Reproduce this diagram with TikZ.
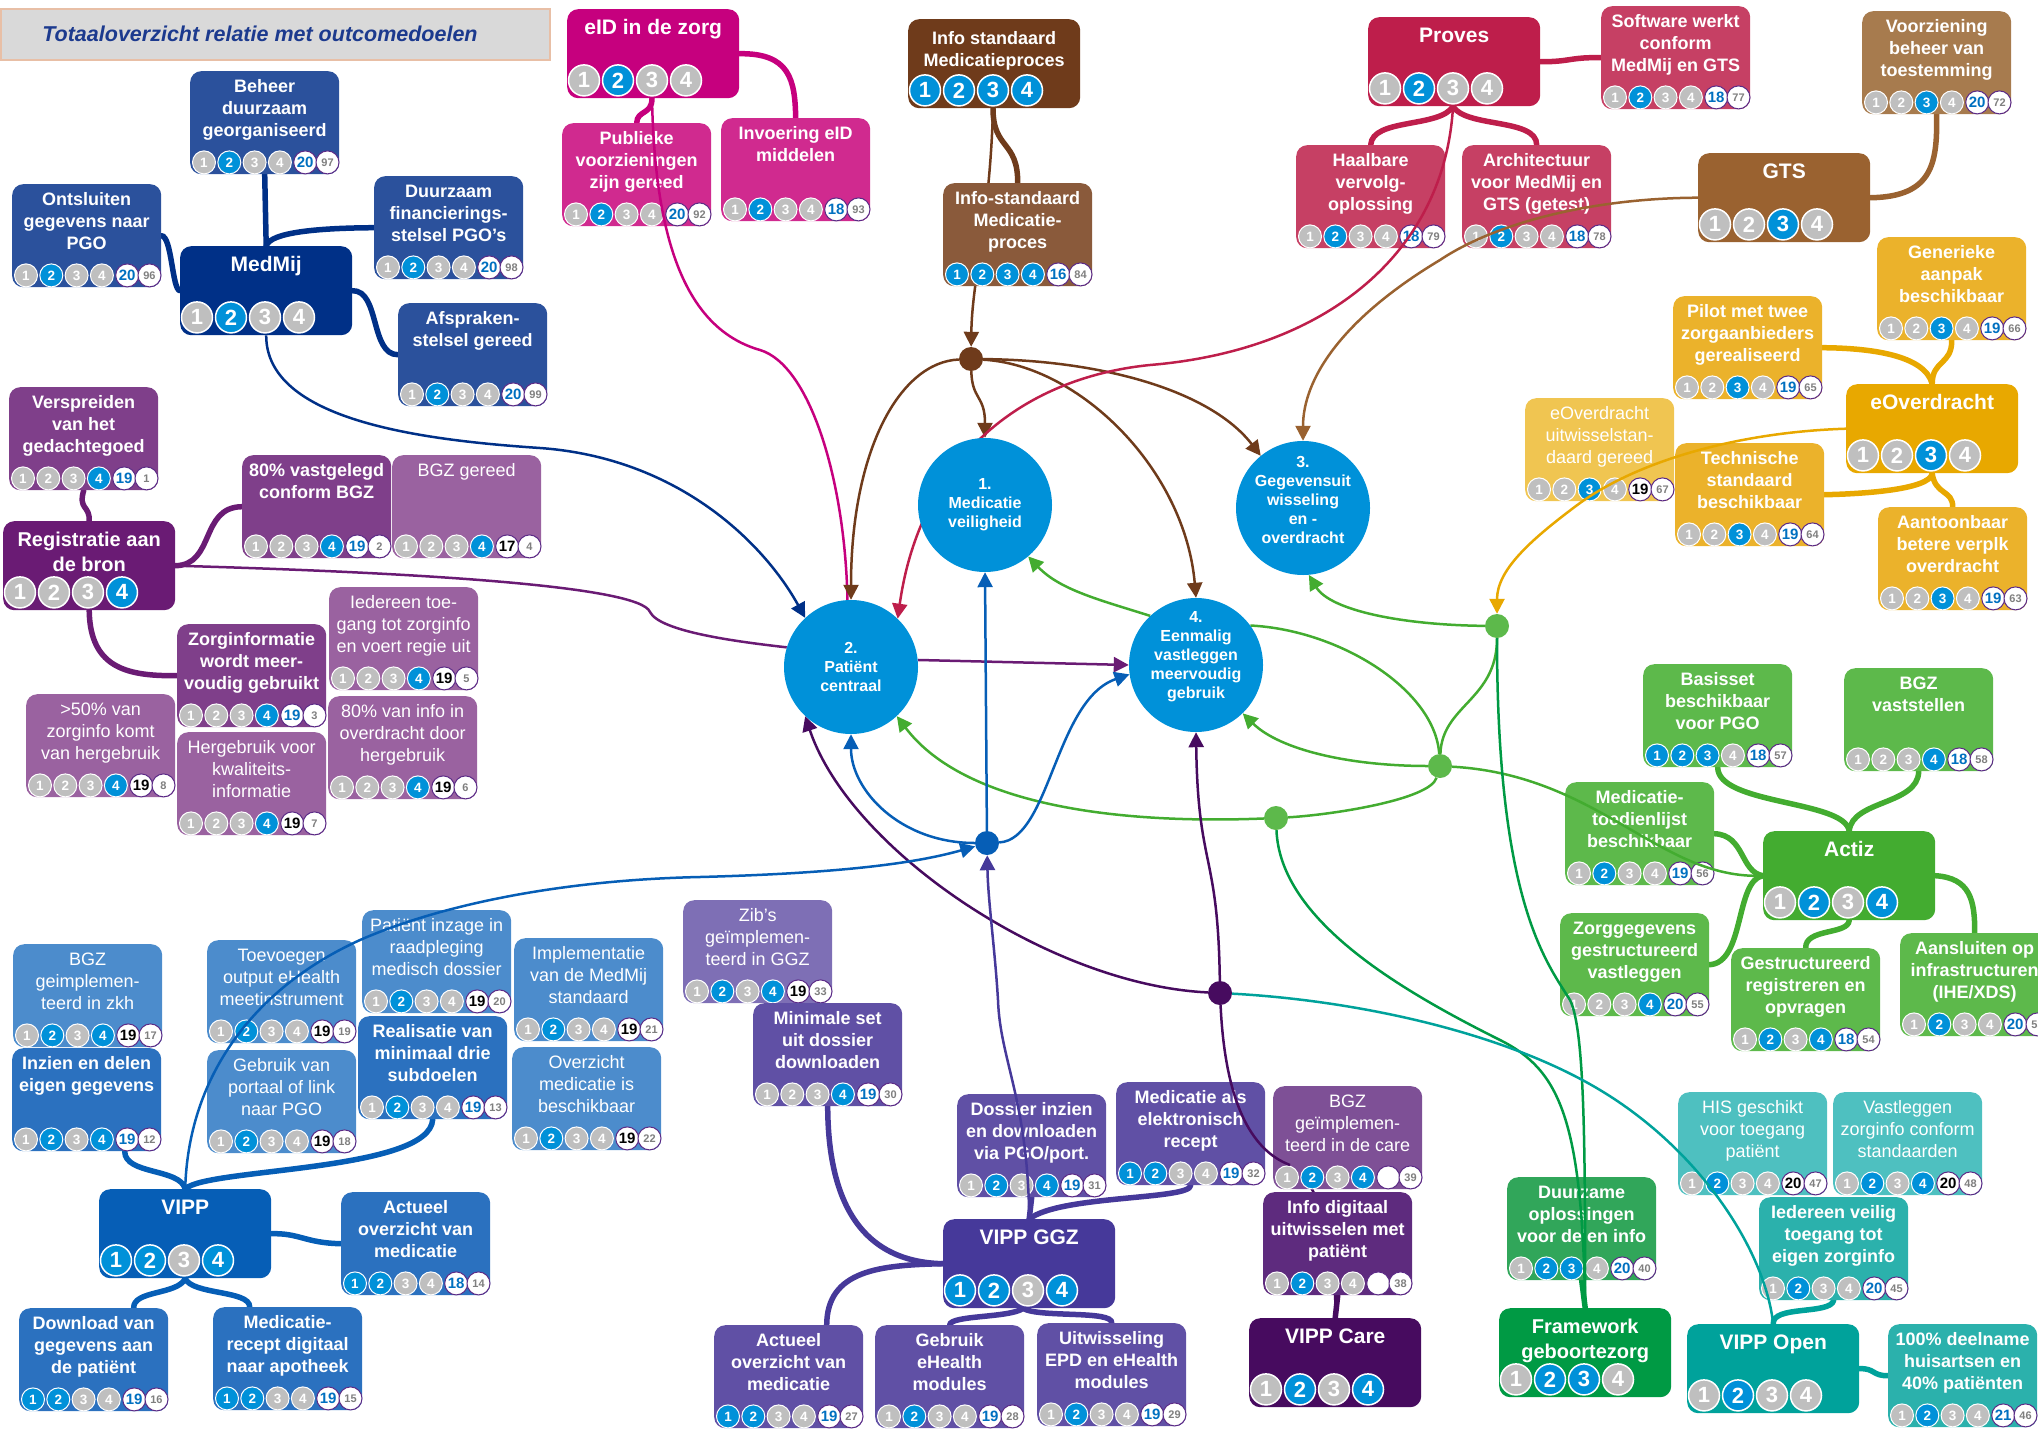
\documentclass[tikz,border=0pt]{standalone}
\usepackage{fontspec}
\setmainfont{Liberation Sans}
\usetikzlibrary{arrows.meta,calc}

\definecolor{lo}{HTML}{BFBFBF}
\definecolor{hi}{HTML}{0091D9}
\definecolor{aimblue}{HTML}{0091D9}
\definecolor{nrblue}{HTML}{0070C0}
\definecolor{nrring}{HTML}{5B2A86}
\definecolor{idgray}{HTML}{7F7F7F}
\definecolor{titlegray}{HTML}{D9D9D9}
\definecolor{titleline}{HTML}{E8BFA6}
\definecolor{titleblue}{HTML}{1C3A8E}
\definecolor{mmhub}{HTML}{003087}
\definecolor{mmsub}{HTML}{2B519C}
\definecolor{reghub}{HTML}{6A1B74}
\definecolor{regsub}{HTML}{7F3F8A}
\definecolor{reglight}{HTML}{9A62A0}
\definecolor{eidhub}{HTML}{C6007E}
\definecolor{eidsub}{HTML}{D02A8F}
\definecolor{medhub}{HTML}{6F3B1B}
\definecolor{medsub}{HTML}{8A5A3B}
\definecolor{prhub}{HTML}{BE1E4B}
\definecolor{prsub}{HTML}{C64064}
\definecolor{gtshub}{HTML}{9A6230}
\definecolor{gtssub}{HTML}{A77B4E}
\definecolor{eovhub}{HTML}{E8A800}
\definecolor{eovsub}{HTML}{EBB22B}
\definecolor{eovlight}{HTML}{F0C551}
\definecolor{acthub}{HTML}{43AC30}
\definecolor{actsub}{HTML}{5DB94B}
\definecolor{fwhub}{HTML}{009A44}
\definecolor{fwsub}{HTML}{31A65A}
\definecolor{openhub}{HTML}{00A29B}
\definecolor{opensub}{HTML}{2BB1AC}
\definecolor{openlight}{HTML}{4EC0C0}
\definecolor{carehub}{HTML}{470B5F}
\definecolor{caresub}{HTML}{5E2B7E}
\definecolor{carelight}{HTML}{7E5096}
\definecolor{ggzhub}{HTML}{46399A}
\definecolor{ggzsub}{HTML}{6050A5}
\definecolor{ggzlight}{HTML}{7E6FB5}
\definecolor{vipphub}{HTML}{065EB6}
\definecolor{vippsub}{HTML}{2B71BF}
\definecolor{vipplight}{HTML}{4C8CCC}

\pgfdeclarelayer{back}
\pgfdeclarelayer{boxes}
\pgfdeclarelayer{links}
\pgfsetlayers{back,boxes,links,main}

\tikzset{
    goal_box/.style = {rectangle, rounded corners=11pt, anchor=north west, inner xsep=2pt, inner ysep=4pt, text=white, font=\fontsize{18}{22}\selectfont\bfseries},
    light_box/.style = {goal_box, font=\fontsize{18}{22}\selectfont},
    hub_box/.style = {goal_box, font=\fontsize{21}{25}\selectfont\bfseries},
    hub_two/.style = {goal_box, font=\fontsize{20}{25}\selectfont\bfseries},
    hub_small/.style = {goal_box, font=\fontsize{18}{22}\selectfont\bfseries},
    badge/.style = {circle, draw=white, line width=1pt, minimum size=23pt, inner sep=0pt, text=white, font=\fontsize{13.5}{14}\selectfont\bfseries},
    big_badge/.style = {badge, minimum size=31pt, line width=1.5pt, font=\fontsize{22}{22}\selectfont\bfseries},
    goal_nr/.style = {circle, draw=nrring, fill=white, line width=1pt, minimum size=23pt, inner sep=0pt, font=\fontsize{15}{15}\selectfont\bfseries},
    goal_id/.style = {goal_nr, text=idgray, font=\fontsize{11}{11}\selectfont\bfseries},
    aim_node/.style = {circle, fill=aimblue, minimum size=134pt, inner sep=0pt},
    aim_text/.style = {text=white, align=center, font=\fontsize{16}{19}\selectfont\bfseries},
    junction/.style = {circle, minimum size=24pt, inner sep=0pt},
    tree_link/.style = {line width=5.5pt, line cap=round},
    aim_link/.style = {line width=2.5pt},
    title_bar/.style = {rectangle, anchor=north west, minimum width=549pt, minimum height=51pt, inner sep=0pt, fill=titlegray, draw=titleline, line width=2pt},
    title_text/.style = {text=titleblue, font=\fontsize{21.5}{24}\selectfont\bfseries\itshape}
}

\newcommand{\goaltext}[1]{\parbox[t][95pt][t]{145pt}{\centering\rule{0pt}{17pt}#1}}
\newcommand{\hubtext}[1]{\parbox[t][81pt][t]{168pt}{\centering\rule{0pt}{21pt}#1}}
\newcommand{\goaldots}[5]{%
    \foreach \col [count=\idx] in {#2}
        \node[badge, fill=\col] (#1-\idx) at ($(#1.south west)+(25.3*\idx-11.3,-12)$) {\idx};
    \node[goal_nr, text=#4] (#1-nr) at ($(#1.south west)+(115.2,-12)$) {#3};
    \node[goal_id] (#1-id) at ($(#1.south west)+(137.5,-12)$) {#5};
}
\newcommand{\hubdots}[2]{%
    \foreach \col [count=\idx] in {#2}
        \node[big_badge, fill=\col] (#1-\idx) at ($(#1.south west)+(34*\idx-17,-18)$) {\idx};
}

\begin{document}
\begin{tikzpicture}[x=1pt, y=-1pt, >={Triangle[length=15pt,width=15pt]}]
\useasboundingbox (0,0) rectangle (2038,1440);

\begin{pgfonlayer}{boxes}
\node[title_bar] (titlebar) at (0,8) {};
\node[title_text] (title) at (260,34) {Totaaloverzicht relatie met outcomedoelen};

\node[goal_box, fill=mmsub] (beheer) at (190,71) {\goaltext{Beheer\\duurzaam\\georganiseerd}};
\goaldots{beheer}{lo,hi,lo,lo}{20}{nrblue}{97}
\node[goal_box, fill=mmsub] (ontsl) at (12,184) {\goaltext{Ontsluiten\\gegevens naar\\PGO}};
\goaldots{ontsl}{lo,hi,lo,lo}{20}{nrblue}{96}
\node[goal_box, fill=mmsub] (duurz) at (374,176) {\goaltext{Duurzaam\\financierings-\\stelsel PGO's}};
\goaldots{duurz}{lo,hi,lo,lo}{20}{nrblue}{98}
\node[goal_box, fill=mmsub] (afspr) at (398,303) {\goaltext{Afspraken-\\stelsel gereed}};
\goaldots{afspr}{lo,hi,lo,lo}{20}{nrblue}{99}
\node[hub_box, fill=mmhub] (medmij) at (180,246) {\hubtext{MedMij}};
\hubdots{medmij}{lo,hi,lo,lo}

\node[goal_box, fill=regsub] (versp) at (9,387) {\goaltext{Verspreiden\\van het\\gedachtegoed}};
\goaldots{versp}{lo,lo,lo,hi}{19}{nrblue}{1}
\node[goal_box, fill=regsub] (vastg) at (242,455) {\goaltext{80\% vastgelegd\\conform BGZ}};
\goaldots{vastg}{lo,lo,lo,hi}{19}{nrblue}{2}
\node[light_box, fill=reglight] (bgzger) at (392,455) {\goaltext{BGZ gereed}};
\goaldots{bgzger}{lo,lo,lo,hi}{17}{black}{4}
\node[goal_box, fill=regsub] (zinfo) at (177,624) {\goaltext{Zorginformatie\\wordt meer-\\voudig gebruikt}};
\goaldots{zinfo}{lo,lo,lo,hi}{19}{nrblue}{3}
\node[light_box, fill=reglight] (iedt) at (329,587) {\goaltext{Iedereen toe-\\gang tot zorginfo\\en voert regie uit}};
\goaldots{iedt}{lo,lo,lo,hi}{19}{black}{5}
\node[light_box, fill=reglight] (vijftig) at (26,694) {\goaltext{>50\% van\\zorginfo komt\\van hergebruik}};
\goaldots{vijftig}{lo,lo,lo,hi}{19}{black}{8}
\node[light_box, fill=reglight] (hergeb) at (177,732) {\goaltext{Hergebruik voor\\kwaliteits-\\informatie}};
\goaldots{hergeb}{lo,lo,lo,hi}{19}{black}{7}
\node[light_box, fill=reglight] (tachtig) at (328,696) {\goaltext{80\% van info in\\overdracht door\\hergebruik}};
\goaldots{tachtig}{lo,lo,lo,hi}{19}{black}{6}
\node[hub_two, fill=reghub] (regi) at (3,521) {\hubtext{Registratie aan\\de bron}};
\hubdots{regi}{lo,lo,lo,hi}

\node[goal_box, fill=eidsub] (publ) at (562,123) {\goaltext{Publieke\\voorzieningen\\zijn gereed}};
\goaldots{publ}{lo,hi,lo,lo}{20}{nrblue}{92}
\node[goal_box, fill=eidsub] (invo) at (721,118) {\goaltext{Invoering eID\\middelen}};
\goaldots{invo}{lo,hi,lo,lo}{18}{nrblue}{93}
\node[hub_box, fill=eidhub] (eid) at (567,9) {\hubtext{eID in de zorg}};
\hubdots{eid}{lo,hi,lo,lo}

\node[goal_box, fill=medsub] (mproc) at (943,183) {\goaltext{Info-standaard\\Medicatie-\\proces}};
\goaldots{mproc}{hi,hi,hi,hi}{16}{nrblue}{84}
\node[hub_small, fill=medhub] (infost) at (908,19) {\hubtext{Info standaard\\Medicatieproces}};
\hubdots{infost}{hi,hi,hi,hi}

\node[goal_box, fill=prsub] (haalb) at (1296,145) {\goaltext{Haalbare\\vervolg-\\oplossing}};
\goaldots{haalb}{lo,hi,lo,lo}{18}{nrblue}{79}
\node[goal_box, fill=prsub] (archi) at (1462,145) {\goaltext{Architectuur\\voor MedMij en\\GTS (getest)}};
\goaldots{archi}{lo,hi,lo,lo}{18}{nrblue}{78}
\node[goal_box, fill=prsub] (softw) at (1601,6) {\goaltext{Software werkt\\conform\\MedMij en GTS}};
\goaldots{softw}{lo,hi,lo,lo}{18}{nrblue}{77}
\node[hub_box, fill=prhub] (proves) at (1368,17) {\hubtext{Proves}};
\hubdots{proves}{lo,hi,lo,lo}

\node[goal_box, fill=gtssub] (voorz) at (1862,11) {\goaltext{Voorziening\\beheer van\\toestemming}};
\goaldots{voorz}{lo,lo,hi,lo}{20}{nrblue}{72}
\node[hub_box, fill=gtshub] (gts) at (1698,153) {\hubtext{GTS}};
\hubdots{gts}{lo,lo,hi,lo}

\node[goal_box, fill=eovsub] (gener) at (1877,237) {\goaltext{Generieke\\aanpak\\beschikbaar}};
\goaldots{gener}{lo,lo,hi,lo}{19}{nrblue}{66}
\node[goal_box, fill=eovsub] (pilot) at (1673,296) {\goaltext{Pilot met twee\\zorgaanbieders\\gerealiseerd}};
\goaldots{pilot}{lo,lo,hi,lo}{19}{nrblue}{65}
\node[light_box, fill=eovlight] (uitwst) at (1525,398) {\goaltext{eOverdracht\\uitwisselstan-\\daard gereed}};
\goaldots{uitwst}{lo,lo,hi,lo}{19}{black}{67}
\node[goal_box, fill=eovsub] (techn) at (1675,443) {\goaltext{Technische\\standaard\\beschikbaar}};
\goaldots{techn}{lo,lo,hi,lo}{19}{nrblue}{64}
\node[goal_box, fill=eovsub] (aant) at (1878,507) {\goaltext{Aantoonbaar\\betere verplk\\overdracht}};
\goaldots{aant}{lo,lo,hi,lo}{19}{nrblue}{63}
\node[hub_box, fill=eovhub] (eov) at (1846,384) {\hubtext{eOverdracht}};
\hubdots{eov}{lo,lo,hi,lo}

\node[goal_box, fill=actsub] (basis) at (1643,664) {\goaltext{Basisset\\beschikbaar\\voor PGO}};
\goaldots{basis}{hi,hi,hi,lo}{18}{nrblue}{57}
\node[goal_box, fill=actsub] (bgzv) at (1844,668) {\goaltext{BGZ\\vaststellen}};
\goaldots{bgzv}{lo,lo,lo,hi}{18}{nrblue}{58}
\node[goal_box, fill=actsub] (mtl) at (1565,782) {\goaltext{Medicatie-\\toedienlijst\\beschikbaar}};
\goaldots{mtl}{lo,hi,lo,lo}{19}{nrblue}{56}
\node[goal_box, fill=actsub] (zorgg) at (1560,913) {\goaltext{Zorggegevens\\gestructureerd\\vastleggen}};
\goaldots{zorgg}{lo,lo,lo,hi}{20}{nrblue}{55}
\node[goal_box, fill=actsub] (gestr) at (1731,948) {\goaltext{Gestructureerd\\registreren en\\opvragen}};
\goaldots{gestr}{lo,hi,lo,hi}{18}{nrblue}{54}
\node[goal_box, fill=actsub] (aansl) at (1900,933) {\goaltext{Aansluiten op\\infrastructuren\\(IHE/XDS)}};
\goaldots{aansl}{lo,hi,lo,lo}{20}{nrblue}{53}
\node[hub_box, fill=acthub] (actiz) at (1763,831) {\hubtext{Actiz}};
\hubdots{actiz}{lo,hi,lo,hi}

\node[light_box, fill=openlight] (his) at (1678,1092) {\goaltext{HIS geschikt\\voor toegang\\patiënt}};
\goaldots{his}{lo,hi,lo,lo}{20}{black}{47}
\node[light_box, fill=openlight] (vastl) at (1833,1092) {\goaltext{Vastleggen\\zorginfo conform\\standaarden}};
\goaldots{vastl}{lo,hi,lo,hi}{20}{black}{48}
\node[goal_box, fill=opensub] (iedv) at (1759,1197) {\goaltext{Iedereen veilig\\toegang tot\\eigen zorginfo}};
\goaldots{iedv}{lo,hi,lo,lo}{20}{nrblue}{45}
\node[goal_box, fill=opensub] (deeln) at (1888,1324) {\goaltext{100\% deelname\\huisartsen en\\40\% patiënten}};
\goaldots{deeln}{lo,hi,lo,lo}{21}{nrblue}{46}
\node[hub_box, fill=openhub] (vippopen) at (1687,1324) {\hubtext{VIPP Open}};
\hubdots{vippopen}{lo,hi,lo,lo}

\node[goal_box, fill=fwsub] (duurzo) at (1507,1177) {\goaltext{Duurzame\\oplossingen\\voor delen info}};
\goaldots{duurzo}{lo,hi,hi,lo}{20}{nrblue}{40}
\node[hub_two, fill=fwhub] (fw) at (1499,1308) {\hubtext{Framework\\geboortezorg}};
\hubdots{fw}{lo,hi,hi,lo}

\node[light_box, fill=carelight] (bgzcare) at (1273,1086) {\goaltext{BGZ\\geïmplemen-\\teerd in de care}};
\goaldots{bgzcare}{lo,hi,lo,hi}{}{black}{39}
\node[goal_box, fill=caresub] (infodig) at (1263,1192) {\goaltext{Info digitaal\\uitwisselen met\\patiënt}};
\goaldots{infodig}{lo,hi,lo,lo}{}{black}{38}
\node[hub_box, fill=carehub] (vippcare) at (1249,1318) {\hubtext{VIPP Care}};
\hubdots{vippcare}{lo,hi,lo,hi}

\node[goal_box, fill=ggzsub] (medals) at (1116,1082) {\goaltext{Medicatie als\\elektronisch\\recept}};
\goaldots{medals}{hi,hi,lo,lo}{19}{nrblue}{32}
\node[goal_box, fill=ggzsub] (dossier) at (957,1094) {\goaltext{Dossier inzien\\en downloaden\\via PGO/port.}};
\goaldots{dossier}{lo,hi,lo,hi}{19}{nrblue}{31}
\node[light_box, fill=ggzlight] (zibs) at (683,900) {\goaltext{Zib’s\\geïmplemen-\\teerd in GGZ}};
\goaldots{zibs}{lo,hi,lo,hi}{19}{black}{33}
\node[goal_box, fill=ggzsub] (minset) at (753,1003) {\goaltext{Minimale set\\uit dossier\\downloaden}};
\goaldots{minset}{lo,lo,lo,hi}{19}{nrblue}{30}
\node[goal_box, fill=ggzsub] (actggz) at (714,1325) {\goaltext{Actueel\\overzicht van\\medicatie}};
\goaldots{actggz}{hi,hi,lo,lo}{19}{nrblue}{27}
\node[goal_box, fill=ggzsub] (gehealth) at (875,1325) {\goaltext{Gebruik\\eHealth\\modules}};
\goaldots{gehealth}{lo,hi,lo,lo}{19}{nrblue}{28}
\node[goal_box, fill=ggzsub] (uitw) at (1037,1323) {\goaltext{Uitwisseling\\EPD en eHealth\\modules}};
\goaldots{uitw}{lo,hi,lo,lo}{19}{nrblue}{29}
\node[hub_box, fill=ggzhub] (vippggz) at (943,1219) {\hubtext{VIPP GGZ}};
\hubdots{vippggz}{hi,hi,lo,hi}

\node[light_box, fill=vipplight] (implmm) at (514,938) {\goaltext{Implementatie\\van de MedMij\\standaard}};
\goaldots{implmm}{lo,hi,lo,lo}{19}{black}{21}
\node[light_box, fill=vipplight] (ovzmed) at (512,1047) {\goaltext{Overzicht\\medicatie is\\beschikbaar}};
\goaldots{ovzmed}{lo,hi,lo,lo}{19}{black}{22}
\node[light_box, fill=vipplight] (bgzzkh) at (13,944) {\goaltext{BGZ\\geimplemen-\\teerd in zkh}};
\goaldots{bgzzkh}{lo,hi,lo,hi}{19}{black}{17}
\node[goal_box, fill=vippsub] (inzien) at (12,1048) {\goaltext{Inzien en delen\\eigen gegevens}};
\goaldots{inzien}{lo,hi,lo,hi}{19}{nrblue}{12}
\node[light_box, fill=vipplight] (toevoeg) at (207,940) {\goaltext{Toevoegen\\output eHealth\\meetinstrument}};
\goaldots{toevoeg}{lo,hi,lo,lo}{19}{black}{19}
\node[light_box, fill=vipplight] (gportaal) at (207,1050) {\goaltext{Gebruik van\\portaal of link\\naar PGO}};
\goaldots{gportaal}{lo,hi,lo,lo}{19}{black}{18}
\node[light_box, fill=vipplight] (inzage) at (362,910) {\goaltext{Patiënt inzage in\\raadpleging\\medisch dossier}};
\goaldots{inzage}{lo,hi,lo,lo}{19}{black}{20}
\node[goal_box, fill=vippsub] (realis) at (358,1016) {\goaltext{Realisatie van\\minimaal drie\\subdoelen}};
\goaldots{realis}{lo,hi,lo,lo}{19}{nrblue}{13}
\node[goal_box, fill=vippsub] (actvipp) at (341,1192) {\goaltext{Actueel\\overzicht van\\medicatie}};
\goaldots{actvipp}{hi,hi,lo,lo}{18}{nrblue}{14}
\node[goal_box, fill=vippsub] (download) at (19,1308) {\goaltext{Download van\\gegevens aan\\de patiënt}};
\goaldots{download}{hi,hi,lo,lo}{19}{nrblue}{16}
\node[goal_box, fill=vippsub] (medrec) at (213,1307) {\goaltext{Medicatie-\\recept digitaal\\naar apotheek}};
\goaldots{medrec}{hi,hi,lo,lo}{19}{nrblue}{15}
\node[hub_box, fill=vipphub] (vipp) at (99,1189) {\hubtext{VIPP}};
\hubdots{vipp}{hi,hi,lo,hi}
\end{pgfonlayer}

\node[aim_node, label={[aim_text]center:{1.\\Medicatie\\veiligheid}}] (aim1) at (985,505) {};
\node[aim_node, label={[aim_text]center:{2.\\Patiënt\\centraal}}] (aim2) at (851,667) {};
\node[aim_node, label={[aim_text, yshift=8pt]center:{3.\\Gegevensuit\\wisseling\\en -\\overdracht}}] (aim3) at (1303,508) {};
\node[aim_node, label={[aim_text, yshift=8pt]center:{4.\\Eenmalig\\vastleggen\\meervoudig\\gebruik}}] (aim4) at (1196,665) {};

\node[junction, fill=medhub] (bdot) at (971,359) {};
\node[junction, fill=vipphub] (bldot) at (987,843) {};
\node[junction, fill=actsub] (gdota) at (1497,626) {};
\node[junction, fill=actsub] (gdotb) at (1440,766) {};
\node[junction, fill=actsub] (gdotc) at (1276,818) {};
\node[junction, fill=carehub] (pdot) at (1220,993) {};
\coordinate (carebend) at (1290,1165);

\begin{pgfonlayer}{back}
\draw[tree_link, mmhub] (medmij.north) -- (beheer.south);
\draw[tree_link, mmhub] (medmij.north) .. controls (270,232) and (320,228) .. (duurz.west);
\draw[tree_link, mmhub] (medmij.west) .. controls (172,290) and (172,236) .. (ontsl.east);
\draw[tree_link, mmhub] (medmij.east) .. controls (380,290) and (370,355) .. (afspr.west);
\draw[tree_link, reghub] (versp.south) .. controls (78,510) and (90,505) .. (regi.north);
\draw[tree_link, reghub] (regi.east) .. controls (215,565) and (200,507) .. (vastg.west);
\draw[tree_link, reghub] (regi.south) .. controls (90,670) and (130,676) .. (zinfo.west);
\draw[tree_link, eidhub] ($(eid.south west)+(85,0)$) .. controls (652,115) and (637,110) .. (publ.north);
\draw[tree_link, eidhub] (eid.east) .. controls (790,53) and (795,80) .. (invo.north);
\draw[tree_link, medhub] ($(infost.south west)+(85,0)$) .. controls (993,150) and (1018,140) .. (mproc.north);
\draw[aim_link, medhub, ->] ($(infost.south west)+(85,0)$) .. controls (990,220) and (972,280) .. (bdot);
\draw[tree_link, prhub] ($(proves.south west)+(85,0)$) .. controls (1440,128) and (1372,118) .. (haalb.north);
\draw[tree_link, prhub] ($(proves.south west)+(85,0)$) .. controls (1466,128) and (1537,118) .. (archi.north);
\draw[tree_link, prhub] (proves.east) .. controls (1570,62) and (1570,57) .. (softw.west);
\draw[tree_link, gtshub] (gts.east) .. controls (1935,197) and (1937,160) .. (voorz.south);
\draw[tree_link, eovhub] (eov.north) .. controls (1932,360) and (1952,365) .. (gener.south);
\draw[tree_link, eovhub] (eov.north) .. controls (1925,355) and (1870,348) .. (pilot.east);
\draw[tree_link, eovhub] (eov.south) .. controls (1930,490) and (1860,494) .. (techn.east);
\draw[tree_link, eovhub] (eov.south) .. controls (1935,495) and (1953,490) .. (aant.north);
\draw[tree_link, acthub] (actiz.north) .. controls (1845,800) and (1718,805) .. (basis.south);
\draw[tree_link, acthub] (actiz.north) .. controls (1852,800) and (1918,805) .. (bgzv.south);
\draw[tree_link, acthub] (actiz.west) .. controls (1740,872) and (1745,835) .. (mtl.east);
\draw[tree_link, acthub] (actiz.west) .. controls (1735,880) and (1745,963) .. (zorgg.east);
\draw[tree_link, acthub] (actiz.south) .. controls (1848,935) and (1805,928) .. (gestr.north);
\draw[tree_link, acthub] (actiz.east) .. controls (1970,878) and (1975,900) .. (aansl.north);
\draw[tree_link, openhub] (iedv.south) .. controls (1830,1315) and (1772,1305) .. (vippopen.north);
\draw[tree_link, openhub] (vippopen.east) .. controls (1875,1368) and (1872,1376) .. (deeln.west);
\draw[tree_link, fwhub] (duurzo.south) -- (fw.north);
\draw[tree_link, carehub] (infodig.south) -- (vippcare.north);
\draw[aim_link, carehub] (carebend) .. controls (1320,1180) and (1337,1250) .. (vippcare.north);
\draw[tree_link, ggzhub] (vippggz.north) -- (dossier.south);
\draw[tree_link, ggzhub] (vippggz.north) .. controls (1060,1195) and (1190,1200) .. (medals.south);
\draw[tree_link, ggzhub] (vippggz.west) .. controls (860,1262) and (828,1200) .. (minset.south);
\draw[tree_link, ggzhub] (vippggz.west) .. controls (880,1265) and (827,1270) .. ($(actggz.north)+(38,0)$);
\draw[tree_link, ggzhub] ($(vippggz.south west)+(80,0)$) .. controls (1010,1318) and (950,1315) .. (gehealth.north);
\draw[tree_link, ggzhub] ($(vippggz.south west)+(80,0)$) .. controls (1040,1318) and (1113,1310) .. (uitw.north);
\draw[tree_link, vipphub] (vipp.north) .. controls (180,1168) and (125,1175) .. ($(inzien.south)+(38,0)$);
\draw[tree_link, vipphub] (vipp.north) .. controls (205,1168) and (430,1172) .. (realis.south);
\draw[tree_link, vipphub] (vipp.east) .. controls (300,1233) and (305,1243) .. (actvipp.west);
\draw[tree_link, vipphub] (vipp.south) .. controls (178,1295) and (133,1290) .. ($(download.north)+(40,0)$);
\draw[tree_link, vipphub] (vipp.south) .. controls (192,1295) and (250,1290) .. ($(medrec.north)+(-38,0)$);
\end{pgfonlayer}

\begin{pgfonlayer}{links}
\draw[aim_link, mmhub, ->] (medmij.south) .. controls (266,420) and (420,440) .. (540,448) .. controls (680,458) and (765,545) .. (aim2.133);
\draw[aim_link, reghub] (regi.east) .. controls (400,572) and (640,585) .. (650,612) .. controls (660,632) and (740,642) .. (aim2.163);
\draw[aim_link, reghub, ->] (aim2.6) -- (aim4.180);
\draw[aim_link, eidhub] ($(eid.south west)+(85,0)$) .. controls (655,250) and (690,330) .. (760,350) .. controls (810,365) and (845,480) .. (aim2.93);
\draw[aim_link, medhub, ->] (bdot) .. controls (900,362) and (851,450) .. (aim2.90);
\draw[aim_link, medhub, ->] (bdot) .. controls (972,400) and (985,395) .. (aim1.90);
\draw[aim_link, medhub, ->] (bdot) .. controls (1100,360) and (1210,390) .. (aim3.129);
\draw[aim_link, medhub, ->] (bdot) .. controls (1080,365) and (1185,470) .. (aim4.90);
\draw[aim_link, prhub, ->] ($(proves.south west)+(85,0)$) .. controls (1445,250) and (1330,350) .. (1150,365) .. controls (1020,378) and (920,460) .. (aim2.46);
\draw[aim_link, gtshub, ->] (gts.west) .. controls (1600,198) and (1500,220) .. (1440,260) .. controls (1340,320) and (1303,380) .. (aim3.90);
\draw[aim_link, eovhub, ->] (eov.west) .. controls (1740,432) and (1640,460) .. (1580,503) .. controls (1530,540) and (1497,570) .. (gdota);
\draw[aim_link, acthub] (actiz.west) .. controls (1660,880) and (1600,775) .. (gdotb);
\draw[aim_link, acthub, ->] (gdotb) .. controls (1350,766) and (1280,750) .. (aim4.314);
\draw[aim_link, acthub] (gdotb) .. controls (1442,705) and (1497,700) .. (gdota);
\draw[aim_link, acthub] (gdotb) .. controls (1435,690) and (1340,630) .. (aim4.36);
\draw[aim_link, acthub, ->] (aim4.133) .. controls (1100,600) and (1060,590) .. (aim1.310);
\draw[aim_link, acthub] (gdotb) .. controls (1430,800) and (1330,815) .. (gdotc);
\draw[aim_link, acthub, ->] (gdota) .. controls (1400,625) and (1330,610) .. (aim3.275);
\draw[aim_link, acthub, ->] (gdotc) .. controls (1100,825) and (960,800) .. (aim2.313);
\draw[aim_link, fwhub] (gdota) .. controls (1497,900) and (1545,960) .. (1570,1000) .. controls (1585,1030) and (1585,1150) .. (fw.north);
\draw[aim_link, fwhub] (gdotc) .. controls (1280,920) and (1400,990) .. (1500,1040) .. controls (1560,1070) and (1582,1120) .. (fw.north);
\draw[aim_link, openhub] (pdot) .. controls (1350,1000) and (1500,1030) .. (1600,1090) .. controls (1700,1150) and (1765,1250) .. (vippopen.north);
\draw[aim_link, carehub, ->] (pdot) .. controls (1218,850) and (1198,870) .. (aim4.270);
\draw[aim_link, carehub, ->] (pdot) .. controls (1050,985) and (850,850) .. (aim2.227);
\draw[aim_link, carehub] (pdot) .. controls (1225,1100) and (1250,1150) .. (carebend);
\draw[aim_link, vipphub, ->] (bldot) -- (aim1.270);
\draw[aim_link, vipphub, ->] (bldot) .. controls (900,843) and (851,790) .. (aim2.270);
\draw[aim_link, vipphub, ->] (bldot) .. controls (1050,840) and (1055,700) .. (aim4.188);
\draw[aim_link, vipphub, ->] (vipp.north) .. controls (188,1080) and (250,990) .. (360,940) .. controls (440,905) and (560,880) .. (700,877) .. controls (850,873) and (920,862) .. (bldot);
\draw[aim_link, ggzhub, ->] (vippggz.north) .. controls (1028,1100) and (1000,1060) .. (998,1000) .. controls (995,950) and (988,900) .. (bldot);
\end{pgfonlayer}
\end{tikzpicture}
\end{document}
